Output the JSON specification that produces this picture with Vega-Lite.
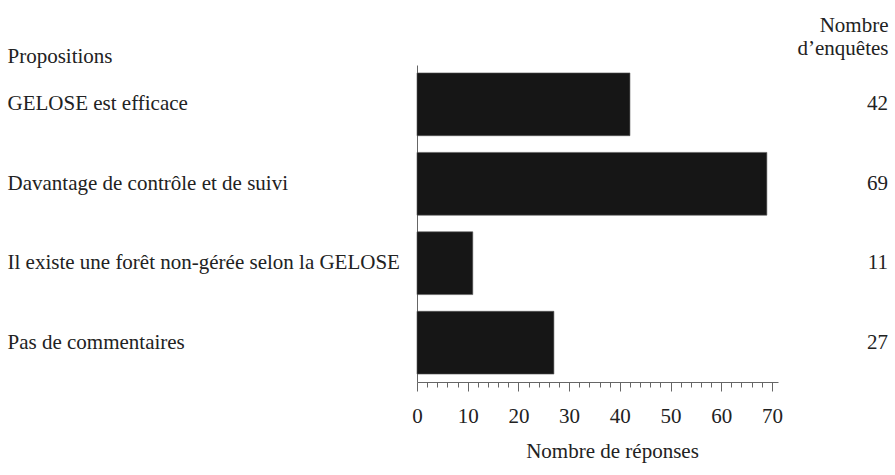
{
  "$schema": "https://vega.github.io/schema/vega-lite/v6.json",
  "autosize": {"type": "none"},
  "width": 361,
  "height": 317,
  "padding": {"left": 417, "top": 65, "right": 117, "bottom": 93},
  "background": "white",
  "config": {
    "view": {"stroke": null},
    "font": "'Liberation Serif', 'Times New Roman', serif",
    "text": {"font": "'Liberation Serif', 'Times New Roman', serif"},
    "axis": {"labelFont": "'Liberation Serif', 'Times New Roman', serif", "titleFont": "'Liberation Serif', 'Times New Roman', serif", "labelColor": "#222", "titleColor": "#222", "titleFontWeight": "normal", "grid": false}
  },
  "data": {
    "values": [
      {"proposition": "GELOSE est efficace", "n": 42},
      {"proposition": "Davantage de contrôle et de suivi", "n": 69},
      {"proposition": "Il existe une forêt non-gérée selon la GELOSE", "n": 11},
      {"proposition": "Pas de commentaires", "n": 27}
    ]
  },
  "resolve": {"axis": {"x": "independent", "y": "independent"}},
  "layer": [
    {
      "mark": {"type": "bar", "color": "#161616", "stroke": "#555", "strokeWidth": 0.6},
      "encoding": {
        "y": {
          "field": "proposition", "type": "nominal", "sort": null,
          "scale": {"paddingInner": 0.21, "paddingOuter": 0.1},
          "axis": {
            "orient": "left", "title": "Propositions", "titleAngle": 0, "titleAlign": "left", "titleBaseline": "alphabetic",
            "titleX": -410, "titleY": -3, "titleFontSize": 21,
            "labelAlign": "left", "labelBaseline": "middle", "labelPadding": 410, "labelLimit": 420, "labelFontSize": 21,
            "ticks": false, "domainColor": "#666", "domainWidth": 1
          }
        },
        "x": {
          "field": "n", "type": "quantitative",
          "scale": {"domain": [0, 71.2], "nice": false},
          "axis": {
            "orient": "bottom",
            "values": [0, 10, 20, 30, 40, 50, 60, 70], "tickSize": 9, "tickColor": "#666", "domainColor": "#666",
            "labelFontSize": 21, "labelBaseline": "alphabetic", "labelPadding": 31, "labelFlush": false,
            "title": "Nombre de réponses", "titleFontSize": 21, "titleBaseline": "alphabetic", "titleAlign": "center",
            "titleX": 195, "titleY": 75
          }
        }
      }
    },
    {
      "mark": {"type": "text", "align": "right", "baseline": "middle", "fontSize": 21, "font": "'Liberation Serif', 'Times New Roman', serif", "color": "#222"},
      "encoding": {
        "y": {
          "field": "proposition", "type": "nominal", "sort": null,
          "axis": {
            "orient": "right", "labels": false, "ticks": false, "domain": false,
            "title": ["Nombre", "d’enquêtes"], "titleAngle": 0, "titleAlign": "right", "titleBaseline": "alphabetic",
            "titleX": 110, "titleY": -34, "titleFontSize": 21, "titleLineHeight": 23
          }
        },
        "x": {
          "datum": 92.9, "type": "quantitative",
          "axis": {
            "orient": "bottom",
            "values": [2, 4, 6, 8, 12, 14, 16, 18, 22, 24, 26, 28, 32, 34, 36, 38, 42, 44, 46, 48, 52, 54, 56, 58, 62, 64, 66, 68],
            "tickSize": 5, "tickColor": "#666", "labels": false, "domain": false, "title": null
          }
        },
        "text": {"field": "n", "type": "quantitative"}
      }
    }
  ]
}
